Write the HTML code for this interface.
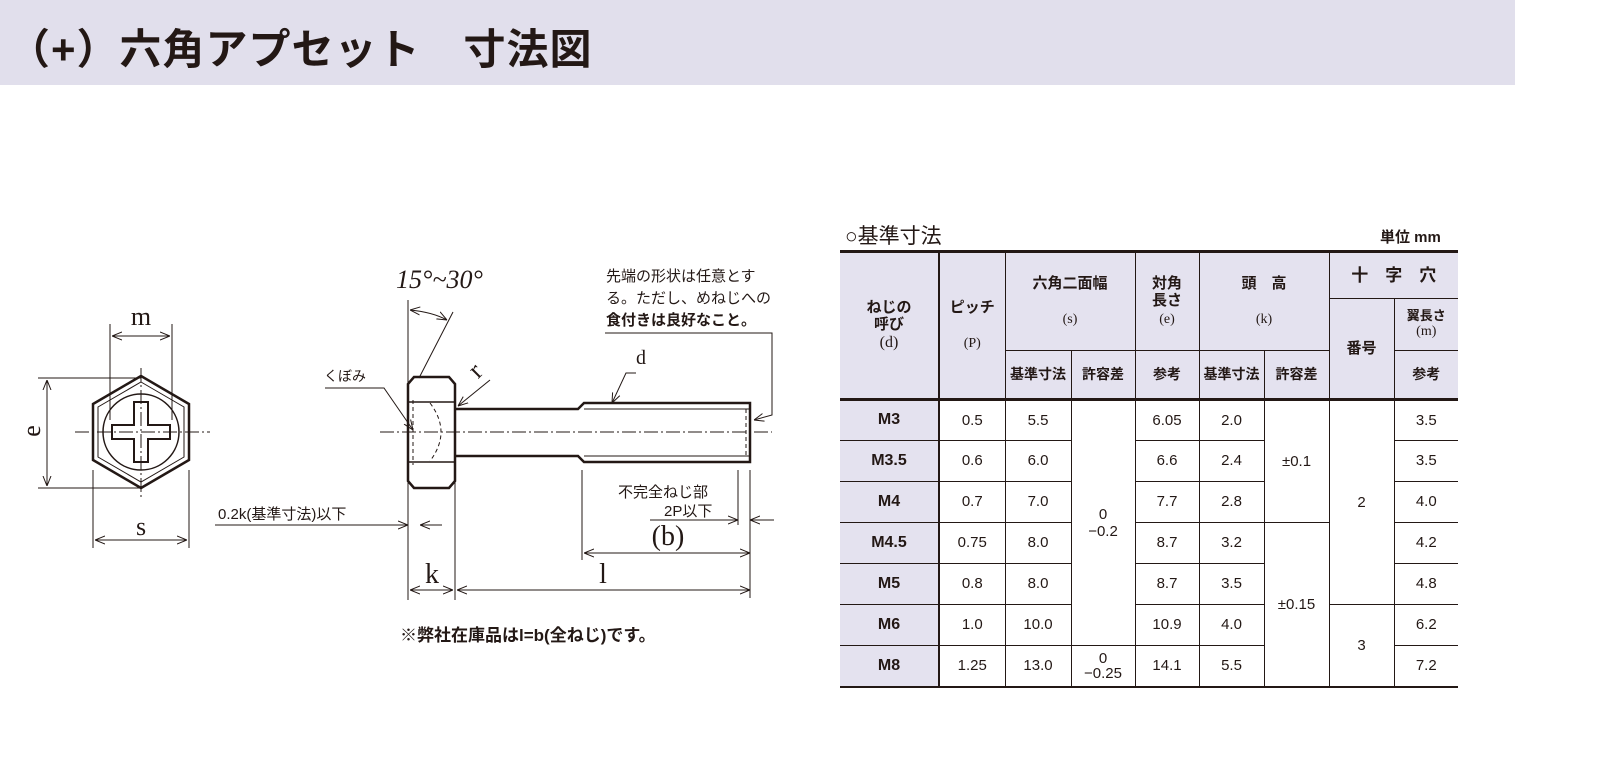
<!DOCTYPE html>
<html><head><meta charset="utf-8">
<style>
body{margin:0;width:1600px;height:757px;background:#fff;overflow:hidden;font-family:"Liberation Sans","Noto Sans CJK JP",sans-serif;position:relative}
.bar{position:absolute;left:0;top:0;width:1515px;height:85px;background:#e1dfec}
.bar div{position:absolute;left:8px;top:16px;font-size:42px;font-weight:bold;color:#231815;letter-spacing:1px}
svg{position:absolute;left:0;top:0}
table{position:absolute;left:840px;top:250px;border-collapse:collapse;font-size:15px;color:#231815;table-layout:fixed;width:618px}
td{border:1px solid #231815;text-align:center;padding:0;line-height:1.15}
.h td{background:#e4e2ef;font-weight:bold}
.n{background:#e4e2ef;font-weight:bold;font-size:16px}
.s{font-family:"Liberation Serif","Noto Serif CJK SC",serif;font-weight:normal;font-size:14px}
</style></head><body>
<div class="bar"><div>（+）六角アプセット　寸法図</div></div>
<div style="position:absolute;left:845px;top:220px;font-size:21px;color:#231815">○基準寸法</div>
<div style="position:absolute;left:1380px;top:226px;font-size:15px;font-weight:bold;color:#231815">単位 mm</div>
<table>
<colgroup><col style="width:99px"><col style="width:66px"><col style="width:66px"><col style="width:64px"><col style="width:64px"><col style="width:65px"><col style="width:65px"><col style="width:65px"><col style="width:64px"></colgroup>
<tr class="h" style="height:47px"><td rowspan="3" style="border-left:none;border-right:2px solid #231815;border-top:3px solid #231815">ねじの<br>呼び<br><span class="s" style="font-size:16px">(d)</span></td><td rowspan="3" style="border-top:3px solid #231815">ピッチ<br><br><span class="s">(P)</span></td><td colspan="2" rowspan="2" style="border-top:3px solid #231815">六角二面幅<br><br><span class="s">(s)</span></td><td rowspan="2" style="border-top:3px solid #231815">対角<br>長さ<br><span class="s">(e)</span></td><td colspan="2" rowspan="2" style="border-top:3px solid #231815">頭　高<br><br><span class="s">(k)</span></td><td colspan="2" style="border-top:3px solid #231815;border-right:none;font-size:17px">十　字　穴</td></tr>
<tr class="h" style="height:52px"><td rowspan="2">番号</td><td style="border-right:none;font-size:13px">翼長さ<br><span class="s">(m)</span></td></tr>
<tr class="h" style="height:49px;font-size:14px"><td>基準寸法</td><td>許容差</td><td>参考</td><td>基準寸法</td><td>許容差</td><td style="border-right:none">参考</td></tr>
<tr style="height:41px;border-top:3px solid #231815"><td class="n" style="border-left:none;border-right:2px solid #231815">M3</td><td>0.5</td><td>5.5</td><td rowspan="6">0<br>−0.2</td><td>6.05</td><td>2.0</td><td rowspan="3">±0.1</td><td rowspan="5">2</td><td style="border-right:none">3.5</td></tr>
<tr style="height:41px"><td class="n" style="border-left:none;border-right:2px solid #231815">M3.5</td><td>0.6</td><td>6.0</td><td>6.6</td><td>2.4</td><td style="border-right:none">3.5</td></tr>
<tr style="height:41px"><td class="n" style="border-left:none;border-right:2px solid #231815">M4</td><td>0.7</td><td>7.0</td><td>7.7</td><td>2.8</td><td style="border-right:none">4.0</td></tr>
<tr style="height:41px"><td class="n" style="border-left:none;border-right:2px solid #231815">M4.5</td><td>0.75</td><td>8.0</td><td>8.7</td><td>3.2</td><td rowspan="4">±0.15</td><td style="border-right:none">4.2</td></tr>
<tr style="height:41px"><td class="n" style="border-left:none;border-right:2px solid #231815">M5</td><td>0.8</td><td>8.0</td><td>8.7</td><td>3.5</td><td style="border-right:none">4.8</td></tr>
<tr style="height:41px"><td class="n" style="border-left:none;border-right:2px solid #231815">M6</td><td>1.0</td><td>10.0</td><td>10.9</td><td>4.0</td><td rowspan="2">3</td><td style="border-right:none">6.2</td></tr>
<tr style="height:41px;border-bottom:2px solid #231815"><td class="n" style="border-left:none;border-right:2px solid #231815">M8</td><td>1.25</td><td>13.0</td><td style="line-height:1">0<br>−0.25</td><td>14.1</td><td>5.5</td><td style="border-right:none">7.2</td></tr>
</table>
<svg width="1600" height="757" viewBox="0 0 1600 757" fill="none" stroke="#231815" stroke-width="1">
<defs><marker id="a" viewBox="0 0 10 10" refX="10" refY="5" markerWidth="10" markerHeight="10" orient="auto-start-reverse"><path d="M0,1 L10,5 L0,9" stroke="#231815" fill="none"/></marker></defs>
<polygon points="141,376 189,404 189,460 141,488 93,460 93,404" stroke-width="2.5"/>
<polygon points="141,382 184,407 184,457 141,482 98,457 98,407"/>
<circle cx="141" cy="432" r="38" stroke-width="1.5"/>
<path d="M134,402 h14 v23 h22 v14 h-22 v23 h-14 v-23 h-22 v-14 h22z" stroke-width="2"/>
<path d="M75,432 H210 M141,368 V500" stroke-dasharray="14,3,2,3"/>
<path d="M110,324 V420 M172,324 V420 M38,378 H141 M38,488 H141 M93,470 V548 M189,470 V548"/>
<path d="M112,336 H170" marker-start="url(#a)" marker-end="url(#a)"/>
<path d="M47,380 V486" marker-start="url(#a)" marker-end="url(#a)"/>
<path d="M95,540 H187" marker-start="url(#a)" marker-end="url(#a)"/>
<path d="M414,377 H449 L455,384 V481 L449,488 H414 L408,481 V384 Z" stroke-width="2.5"/>
<path d="M408,402 H455 M408,462 H455" stroke-width="1.5"/>
<path d="M455,409 H578 L584,403 H750 V462 H584 L578,456 H455" stroke-width="2.5"/>
<path d="M584,409 H750 M584,456 H750" />
<path d="M430,403 Q452,432 430,461" stroke-dasharray="4,3"/>
<path d="M413,400 V465 M746,409 V456" stroke-dasharray="4,3"/>
<path d="M380,432 H772" stroke-dasharray="14,3,2,3"/>
<path d="M408,300 V600 M455,470 V600 M582,470 V560 M750,470 V598 M738,470 V525"/>
<path d="M410,310 Q432,312 447,320" marker-start="url(#a)" marker-end="url(#a)"/>
<path d="M453,312 L419,378"/>
<path d="M325,388 H384 L413,430" marker-end="url(#a)"/>
<path d="M490,380 L458,406" marker-end="url(#a)"/>
<path d="M636,373 H626 L612,403" marker-end="url(#a)"/>
<path d="M605,333 H772 V415 L754,420" marker-end="url(#a)"/>
<path d="M215,525 H408" marker-end="url(#a)"/>
<path d="M442,525 H420" marker-end="url(#a)"/>
<path d="M650,520 H738" marker-end="url(#a)"/>
<path d="M774,520 H750" marker-end="url(#a)"/>
<path d="M584,553 H750" marker-start="url(#a)" marker-end="url(#a)"/>
<path d="M410,590 H453" marker-start="url(#a)" marker-end="url(#a)"/>
<path d="M457,590 H750" marker-start="url(#a)" marker-end="url(#a)"/>
<g fill="#231815" stroke="none" font-family="Liberation Serif,serif">
<text x="141" y="325" font-size="26" text-anchor="middle">m</text>
<text x="141" y="535" font-size="26" text-anchor="middle">s</text>
<text transform="translate(40,431) rotate(-90)" font-size="26" text-anchor="middle">e</text>
<text x="396" y="288" font-size="26" font-style="italic">15°~30°</text>
<text x="470" y="376" font-size="26" transform="rotate(-45 478 368)">r</text>
<text x="636" y="364" font-size="20">d</text>
<text x="432" y="583" font-size="28" text-anchor="middle">k</text>
<text x="603" y="583" font-size="28" text-anchor="middle">l</text>
<text x="668" y="545" font-size="28" text-anchor="middle">(b)</text>
</g>
<g fill="#231815" stroke="none" font-family="Liberation Sans,Noto Sans CJK JP,sans-serif">
<text x="324" y="381" font-size="14">くぼみ</text>
<text x="606" y="281" font-size="15">先端の形状は任意とす</text>
<text x="606" y="303" font-size="15">る。ただし、めねじへの</text>
<text x="606" y="325" font-size="15" font-weight="bold">食付きは良好なこと。</text>
<text x="618" y="497" font-size="15">不完全ねじ部</text>
<text x="664" y="516" font-size="15">2P以下</text>
<text x="218" y="519" font-size="15">0.2k(基準寸法)以下</text>
<text x="400" y="641" font-size="17" font-weight="bold">※弊社在庫品はl=b(全ねじ)です。</text>
</g>
</svg>
</body></html>
